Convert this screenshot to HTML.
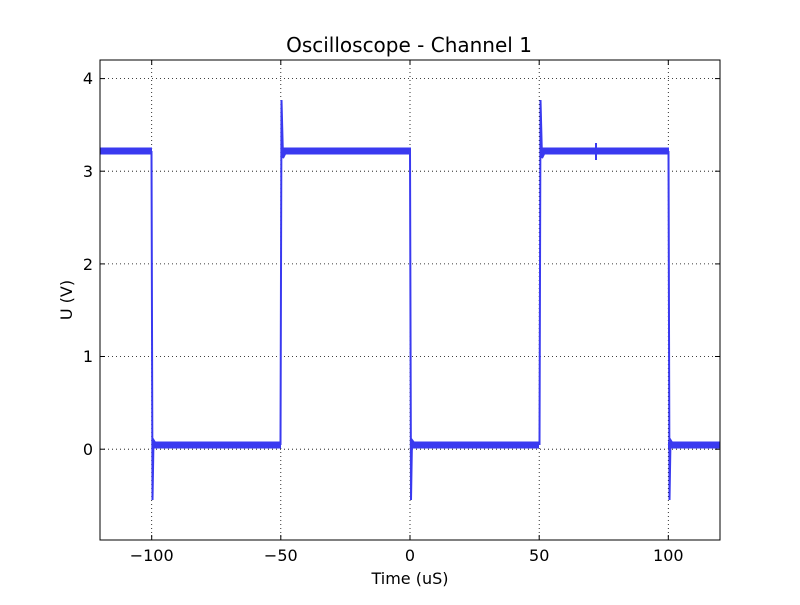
<!DOCTYPE html>
<html><head><style>body{margin:0;background:#fff}</style></head><body>
<svg width="800" height="600" xmlns="http://www.w3.org/2000/svg" font-family="DejaVu Sans, Liberation Sans, sans-serif">
<rect width="800" height="600" fill="#fff"/>
<g stroke="#000" stroke-width="0.8" stroke-dasharray="1,3" fill="none">
<line x1="151.7" y1="60" x2="151.7" y2="540"/><line x1="280.8" y1="60" x2="280.8" y2="540"/><line x1="410" y1="60" x2="410" y2="540"/><line x1="539.2" y1="60" x2="539.2" y2="540"/><line x1="668.3" y1="60" x2="668.3" y2="540"/>
<line x1="100" y1="449.2" x2="720" y2="449.2"/><line x1="100" y1="356.5" x2="720" y2="356.5"/><line x1="100" y1="263.9" x2="720" y2="263.9"/><line x1="100" y1="171.2" x2="720" y2="171.2"/><line x1="100" y1="78.6" x2="720" y2="78.6"/>
</g>
<g fill="#3a3af0">
<rect x="100" y="147.5" width="52" height="7"/>
<rect x="282" y="147.5" width="129" height="7"/>
<rect x="540" y="147.5" width="129" height="7"/>
<rect x="152" y="441.5" width="129" height="7"/>
<rect x="410" y="441.5" width="129" height="7"/>
<rect x="668" y="441.5" width="52" height="7"/>
</g>
<g stroke="#3a3af0" stroke-width="2" fill="none">
<polyline points="151.5,151 152.5,500 153.5,440 156,444"/>
<polyline points="410,151 411,500 412,440 415,444"/>
<polyline points="668.5,151 669.5,500 670.5,440 673,444"/>
<polyline points="280.5,445 281.5,100 283,158 286,152"/>
<polyline points="539.5,445 540.5,100 542,158 545,152"/>
<line x1="596" y1="143" x2="596" y2="160"/>
</g>
<rect x="100" y="60" width="620" height="480" fill="none" stroke="#000" stroke-width="1"/>
<g stroke="#000" stroke-width="1">
<line x1="151.7" y1="540" x2="151.7" y2="535"/><line x1="280.8" y1="540" x2="280.8" y2="535"/><line x1="410" y1="540" x2="410" y2="535"/><line x1="539.2" y1="540" x2="539.2" y2="535"/><line x1="668.3" y1="540" x2="668.3" y2="535"/>
<line x1="151.7" y1="60" x2="151.7" y2="65"/><line x1="280.8" y1="60" x2="280.8" y2="65"/><line x1="410" y1="60" x2="410" y2="65"/><line x1="539.2" y1="60" x2="539.2" y2="65"/><line x1="668.3" y1="60" x2="668.3" y2="65"/>
<line x1="100" y1="449.2" x2="105" y2="449.2"/><line x1="100" y1="356.5" x2="105" y2="356.5"/><line x1="100" y1="263.9" x2="105" y2="263.9"/><line x1="100" y1="171.2" x2="105" y2="171.2"/><line x1="100" y1="78.6" x2="105" y2="78.6"/>
<line x1="720" y1="449.2" x2="715" y2="449.2"/><line x1="720" y1="356.5" x2="715" y2="356.5"/><line x1="720" y1="263.9" x2="715" y2="263.9"/><line x1="720" y1="171.2" x2="715" y2="171.2"/><line x1="720" y1="78.6" x2="715" y2="78.6"/>
</g>
<g font-size="16" text-anchor="middle">
<text x="151.7" y="561">−100</text><text x="280.8" y="561">−50</text><text x="410" y="561">0</text><text x="539.2" y="561">50</text><text x="668.3" y="561">100</text>
</g>
<g font-size="16" text-anchor="end">
<text x="93" y="455">0</text><text x="93" y="362">1</text><text x="93" y="270">2</text><text x="93" y="177">3</text><text x="93" y="84">4</text>
</g>
<text x="410" y="584" font-size="16" text-anchor="middle">Time (uS)</text>
<text x="72" y="300" font-size="16" text-anchor="middle" transform="rotate(-90 72 300)">U (V)</text>
<text x="409" y="52" font-size="20" text-anchor="middle">Oscilloscope - Channel 1</text>
</svg>
</body></html>
